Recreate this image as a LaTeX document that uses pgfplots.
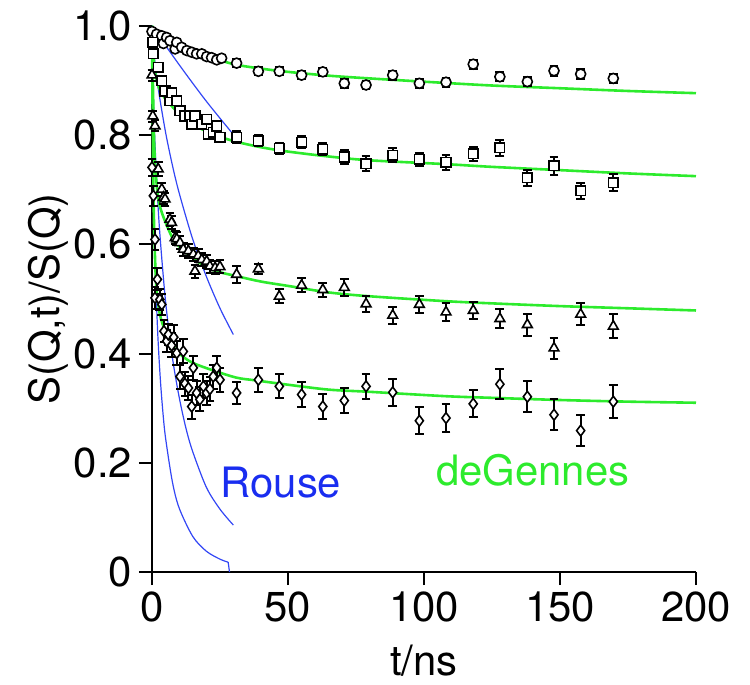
\documentclass[border=0pt]{standalone}
\usepackage{fontspec}
\setmainfont{TeX Gyre Heros}
\usepackage{pgfplots}
\pgfplotsset{compat=1.18}
\usepackage{pgfplotstable}
\definecolor{rouse}{RGB}{50,70,245}
\definecolor{rousetxt}{RGB}{25,45,240}
\definecolor{degen}{RGB}{45,235,45}

\pgfplotstableread{
t y e
0 0.990 0.004
0.6 0.975 0.004
1.7 0.985 0.004
3.6 0.982 0.004
4.2 0.968 0.004
5.4 0.979 0.004
6.6 0.973 0.004
8.5 0.958 0.004
9.1 0.970 0.004
10.9 0.961 0.004
12.8 0.955 0.004
14.6 0.952 0.004
16.4 0.949 0.004
18.3 0.949 0.004
20.1 0.944 0.004
21.9 0.942 0.004
23.8 0.938 0.004
25.6 0.941 0.004
31.1 0.932 0.007
39.1 0.917 0.007
46.8 0.917 0.007
55.0 0.910 0.007
62.8 0.916 0.007
70.7 0.895 0.008
78.7 0.892 0.008
88.5 0.910 0.008
98.3 0.895 0.008
108.1 0.897 0.008
118.1 0.930 0.008
127.9 0.907 0.008
138.0 0.898 0.008
147.8 0.918 0.009
157.6 0.912 0.009
169.6 0.904 0.009
}\dataA

\pgfplotstableread{
t y e
0.3 0.970 0.006
0.5 0.949 0.006
2.3 0.924 0.006
3.6 0.900 0.006
4.8 0.881 0.006
6.6 0.863 0.006
7.2 0.878 0.006
9.1 0.863 0.006
10.3 0.845 0.006
12.1 0.835 0.006
14.0 0.835 0.006
14.6 0.820 0.006
15.8 0.835 0.006
18.3 0.820 0.006
20.1 0.829 0.006
20.7 0.802 0.006
22.5 0.805 0.006
23.8 0.817 0.006
25.0 0.796 0.006
31.1 0.796 0.011
39.1 0.790 0.010
46.8 0.776 0.010
55.0 0.787 0.011
62.8 0.774 0.011
70.7 0.760 0.012
78.7 0.748 0.013
88.5 0.763 0.013
98.3 0.756 0.012
108.1 0.750 0.013
118.1 0.766 0.013
127.9 0.777 0.015
138.0 0.722 0.015
147.8 0.744 0.016
157.6 0.698 0.015
169.6 0.713 0.016
}\dataB

\pgfplotstableread{
t y e
0 0.910 0.010
0.3 0.835 0.010
1.1 0.817 0.010
2.3 0.738 0.012
3.6 0.701 0.012
4.2 0.686 0.012
4.8 0.683 0.012
6.6 0.646 0.012
7.2 0.640 0.012
8.5 0.612 0.012
9.1 0.610 0.012
10.3 0.603 0.012
11.5 0.591 0.012
13.4 0.588 0.012
15.2 0.582 0.012
15.8 0.551 0.012
17.0 0.579 0.012
18.3 0.572 0.012
20.1 0.569 0.012
21.3 0.560 0.012
23.2 0.557 0.012
25.0 0.559 0.012
31.1 0.545 0.015
39.1 0.555 0.010
46.8 0.505 0.013
55.0 0.525 0.013
62.8 0.517 0.013
70.7 0.521 0.015
78.7 0.491 0.015
88.5 0.470 0.016
98.3 0.490 0.016
108.1 0.476 0.016
118.1 0.479 0.016
127.9 0.464 0.017
138.0 0.453 0.020
147.8 0.410 0.019
157.6 0.472 0.020
169.6 0.450 0.022
}\dataC

\pgfplotstableread{
t y e
0 0.741 0.015
0.5 0.689 0.018
1.1 0.609 0.020
1.1 0.502 0.020
2.0 0.536 0.020
2.9 0.499 0.020
3.6 0.490 0.020
4.4 0.441 0.020
5.4 0.423 0.020
6.0 0.435 0.020
7.2 0.415 0.022
8.0 0.430 0.022
9.1 0.401 0.022
10.3 0.358 0.022
11.5 0.404 0.022
12.1 0.345 0.022
13.4 0.337 0.022
14.6 0.303 0.022
15.2 0.374 0.022
16.4 0.328 0.022
17.6 0.316 0.022
18.9 0.340 0.022
20.1 0.328 0.022
21.3 0.335 0.022
22.5 0.358 0.022
23.8 0.374 0.022
25.0 0.352 0.022
31.1 0.328 0.020
39.1 0.352 0.022
46.8 0.340 0.022
55.0 0.325 0.023
62.8 0.303 0.023
70.7 0.314 0.023
78.7 0.340 0.023
88.5 0.329 0.025
98.3 0.277 0.025
108.1 0.282 0.025
118.1 0.308 0.025
127.9 0.344 0.027
138.0 0.321 0.028
147.8 0.288 0.028
157.6 0.259 0.028
169.6 0.312 0.030
}\dataD

\begin{document}
\begin{tikzpicture}[x=1bp,y=1bp]
\path[use as bounding box] (-76,-56.5) rectangle (299,286);
\begin{axis}[
  at={(0,0)}, anchor=south west,
  scale only axis, width=272bp, height=273bp,
  xmin=0, xmax=200, ymin=0, ymax=1,
  clip=false,
  axis lines=left,
  axis line style={-, line width=1bp, black},
  tick align=outside,
  major tick length=6.5bp,
  every tick/.style={line width=1bp, black},
  xtick={0,50,100,150,200},
  ytick={0,0.2,0.4,0.6,0.8,1.0},
  yticklabels={0,0.2,0.4,0.6,0.8,1.0},
  /pgf/number format/assume math mode=true,
  tick label style={font=\fontsize{21}{25}\selectfont},
  label style={font=\fontsize{21}{25}\selectfont},
  xlabel={t/ns},
  ylabel={S(Q,t)/S(Q)},
  xlabel style={at={(axis description cs:0.5,-0.163)}, anchor=center},
  ylabel style={at={(axis description cs:-0.19,0.5)}, anchor=center},
  error bars/error bar style={line width=1bp, black},
  error bars/error mark options={rotate=90, mark size=2.2bp, line width=1bp, black},
]
% Rouse curves
\addplot[rouse, line width=0.6bp, smooth] coordinates {(0,1.0)(5,0.964)(10,0.929)(15,0.895)(20,0.862)(25,0.831)(29.8,0.802)};
\addplot[rouse, line width=0.6bp, smooth] coordinates {(0,1.0)(0.5,0.962)(1,0.937)(2.5,0.879)(5,0.805)(7.5,0.745)(10,0.694)(15,0.609)(20,0.541)(25,0.483)(29.9,0.435)};
\addplot[rouse, line width=0.6bp, smooth] coordinates {(0,1.0)(0.25,0.917)(0.5,0.869)(1,0.796)(2,0.69)(3,0.612)(5,0.495)(7.5,0.393)(10,0.32)(12.5,0.263)(15,0.22)(20,0.155)(25,0.115)(29.9,0.086)};
\addplot[rouse, line width=0.6bp, smooth] coordinates {(0,1.0)(0.1,0.88)(0.25,0.80)(0.5,0.71)(1,0.59)(2,0.449)(3,0.358)(4,0.293)(5,0.245)(7.5,0.165)(10,0.117)(15,0.065)(20,0.038)(25,0.0235)(28,0.018)};
\addplot[rouse, line width=0.6bp] coordinates {(28,0.018)(28.5,0)};
% deGennes curves
\addplot[degen, line width=1.3bp, smooth] coordinates {(0,1.0)(2,0.985)(5,0.972)(10,0.959)(15,0.951)(20,0.943)(25,0.937)(31,0.929)(40,0.922)(50,0.916)(65,0.909)(80,0.904)(100,0.898)(125,0.891)(150,0.886)(175,0.881)(200,0.877)};
\addplot[degen, line width=1.3bp, smooth] coordinates {(0,1.0)(0.5,0.95)(1,0.92)(2,0.895)(3,0.882)(5,0.866)(7.5,0.852)(10,0.840)(15,0.820)(20,0.807)(25,0.797)(31,0.788)(40,0.778)(50,0.770)(65,0.761)(80,0.754)(108,0.747)(125,0.742)(150,0.736)(175,0.730)(200,0.725)};
\addplot[degen, line width=1.3bp, smooth] coordinates {(0,1.0)(0.5,0.85)(1,0.76)(2,0.695)(3,0.668)(5,0.640)(7.8,0.609)(10,0.596)(14,0.579)(20,0.558)(25,0.549)(31,0.542)(40,0.532)(50,0.524)(65,0.512)(80,0.505)(108,0.496)(125,0.492)(150,0.487)(175,0.483)(200,0.479)};
\addplot[degen, line width=1.3bp, smooth] coordinates {(0,1.0)(0.3,0.80)(0.7,0.65)(1.5,0.53)(2.9,0.472)(5,0.440)(7.5,0.415)(11,0.396)(15,0.383)(22,0.370)(31,0.356)(38,0.351)(50,0.343)(65,0.334)(80,0.330)(108,0.322)(125,0.319)(150,0.315)(175,0.312)(200,0.310)};
% data
\addplot[only marks, mark=*, mark size=2.5bp, mark options={fill=white, draw=black, line width=0.8bp},
  error bars/.cd, y dir=both, y explicit] table[x=t, y=y, y error=e] {\dataA};
\addplot[only marks, mark=square*, mark size=2.4bp, mark options={fill=white, draw=black, line width=0.8bp},
  error bars/.cd, y dir=both, y explicit] table[x=t, y=y, y error=e] {\dataB};
\addplot[only marks, mark=triangle*, mark size=2.8bp, mark options={fill=white, draw=black, line width=0.8bp},
  error bars/.cd, y dir=both, y explicit] table[x=t, y=y, y error=e] {\dataC};
\addplot[only marks, mark=diamond*, mark size=2.7bp, mark options={fill=white, draw=black, line width=0.8bp},
  error bars/.cd, y dir=both, y explicit] table[x=t, y=y, y error=e] {\dataD};
\node[text=rousetxt, font=\fontsize{21}{25}\selectfont] at (axis cs:47.4,0.163) {Rouse};
\node[text=degen, font=\fontsize{21}{25}\selectfont] at (axis cs:140,0.187) {deGennes};
\end{axis}
\end{tikzpicture}
\end{document}
